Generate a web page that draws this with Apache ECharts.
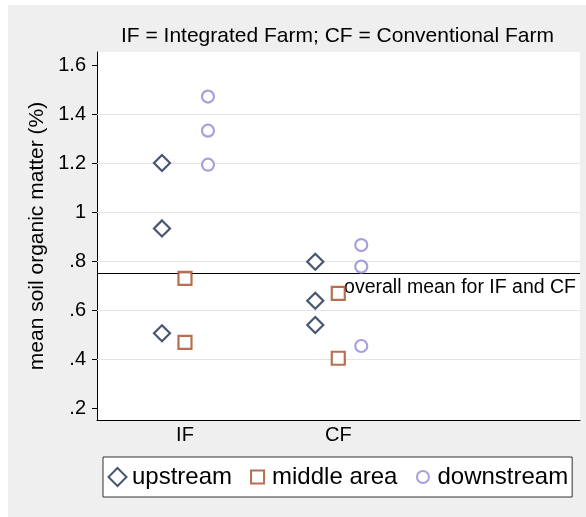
<!DOCTYPE html>
<html>
<head>
<meta charset="utf-8">
<script src="https://cdn.jsdelivr.net/npm/echarts@6/dist/echarts.min.js"></script>
<style>
html, body { margin: 0; padding: 0; background: #fff; }
#chart { position: absolute; left: 8px; top: 5px; width: 578px; height: 512px; }
</style>
</head>
<body>
<div id="chart"></div>
<script>
// farm types on the x axis
const categories = ['IF', 'CF']
// readings per farm, in the order they appear top to bottom
const upstreamIF = [1.2, 0.933, 0.505]
const upstreamCF = [0.797, 0.638, 0.539]
const middleIF = [0.729, 0.468]
const middleCF = [0.668, 0.403]
const downstreamIF = [1.471, 1.332, 1.193]
const downstreamCF = [0.865, 0.777, 0.453]
const overallMean = 0.75
const yTicks = [0.2, 0.4, 0.6, 0.8, 1, 1.2, 1.4, 1.6]
const gridValues = [0.4, 0.6, 0.8, 1, 1.2, 1.4]

// horizontal dodge of each group around the farm position
const dodge = { upstream: -0.15, middle: 0, downstream: 0.15 }

function points (ifVals, cfVals, off) {
  const out = []
  ifVals.forEach(v => out.push([1 + off, v]))
  cfVals.forEach(v => out.push([2 + off, v]))
  return out
}

const myChart = echarts.init(document.getElementById('chart'))
const lines = gridValues.map(v => ({
  yAxis: v,
  lineStyle: { color: '#e4e4e4', width: 1, type: 'solid' },
  label: { show: false }
}))
lines.push({
  yAxis: overallMean,
  lineStyle: { color: '#000', width: 1, type: 'solid' },
  label: {
    show: true,
    position: 'insideEndBottom',
    formatter: 'overall mean for IF and CF',
    color: '#000',
    fontSize: 19.5,
    distance: [4, 4]
  }
})

myChart.setOption({
  backgroundColor: '#efefef',
  textStyle: { fontFamily: 'Liberation Sans, Arial, sans-serif' },
  animation: false,
  title: {
    text: 'IF = Integrated Farm; CF = Conventional Farm',
    left: 113,
    top: 21,
    padding: 0,
    textStyle: { fontSize: 21, fontWeight: 'normal', color: '#000' }
  },
  legend: {
    left: 95,
    top: 452,
    padding: [8, 4, 8, 4],
    backgroundColor: '#fff',
    borderColor: '#333',
    borderWidth: 1,
    itemGap: 15,
    itemWidth: 19,
    itemHeight: 19,
    selectedMode: false,
    textStyle: { fontSize: 24, color: '#000' },
    itemStyle: { borderWidth: 2 },
    data: [
      { name: 'upstream', icon: 'path://M0,0M19,19M9.5,0.5L18.5,9.5L9.5,18.5L0.5,9.5Z' },
      { name: 'middle area', icon: 'path://M0,0M19,19M3,3H16V16H3Z' },
      { name: 'downstream', icon: 'path://M0,0M19,19M3.5,9.5A6,6 0 1,0 15.5,9.5A6,6 0 1,0 3.5,9.5Z' }
    ]
  },
  grid: {
    left: 89,
    top: 47,
    right: 6,
    bottom: 97,
    show: true,
    backgroundColor: '#fff',
    borderWidth: 0
  },
  xAxis: {
    type: 'value',
    min: 0.426,
    max: 3.577,
    axisLine: { show: true, lineStyle: { color: '#000', width: 1 } },
    axisTick: { show: false },
    splitLine: { show: false },
    axisLabel: {
      customValues: [1, 2],
      formatter: v => categories[Math.round(v) - 1],
      fontSize: 20,
      color: '#000',
      margin: 5
    }
  },
  yAxis: {
    type: 'value',
    min: 0.151,
    max: 1.653,
    name: 'mean soil organic matter (%)',
    nameLocation: 'middle',
    nameRotate: 90,
    nameGap: 46,
    nameTextStyle: { fontSize: 21, color: '#000' },
    axisLine: { show: true, lineStyle: { color: '#000', width: 1 } },
    axisTick: { show: true, customValues: yTicks, length: 5, lineStyle: { color: '#000' } },
    splitLine: { show: false },
    axisLabel: {
      customValues: yTicks,
      formatter: v => String(v).replace(/^0\./, '.'),
      fontSize: 20,
      color: '#000',
      margin: 11
    }
  },
  series: [
    {
      name: 'lines',
      type: 'scatter',
      data: [],
      silent: true,
      markLine: {
        silent: true,
        z: 1,
        symbol: 'none',
        animation: false,
        data: lines
      }
    },
    {
      name: 'upstream',
      type: 'scatter',
      symbol: 'diamond',
      symbolSize: 16,
      itemStyle: { color: '#fff', borderColor: '#1a2a50', borderWidth: 2.2 },
      data: points(upstreamIF, upstreamCF, dodge.upstream)
    },
    {
      name: 'middle area',
      type: 'scatter',
      symbol: 'rect',
      symbolSize: 13,
      itemStyle: { color: '#fff', borderColor: '#a84a26', borderWidth: 2.2 },
      data: points(middleIF, middleCF, dodge.middle)
    },
    {
      name: 'downstream',
      type: 'scatter',
      symbol: 'circle',
      symbolSize: 12,
      itemStyle: { color: '#fff', borderColor: '#8f88d6', borderWidth: 2.2 },
      data: points(downstreamIF, downstreamCF, dodge.downstream)
    }
  ]
})
</script>
</body>
</html>
